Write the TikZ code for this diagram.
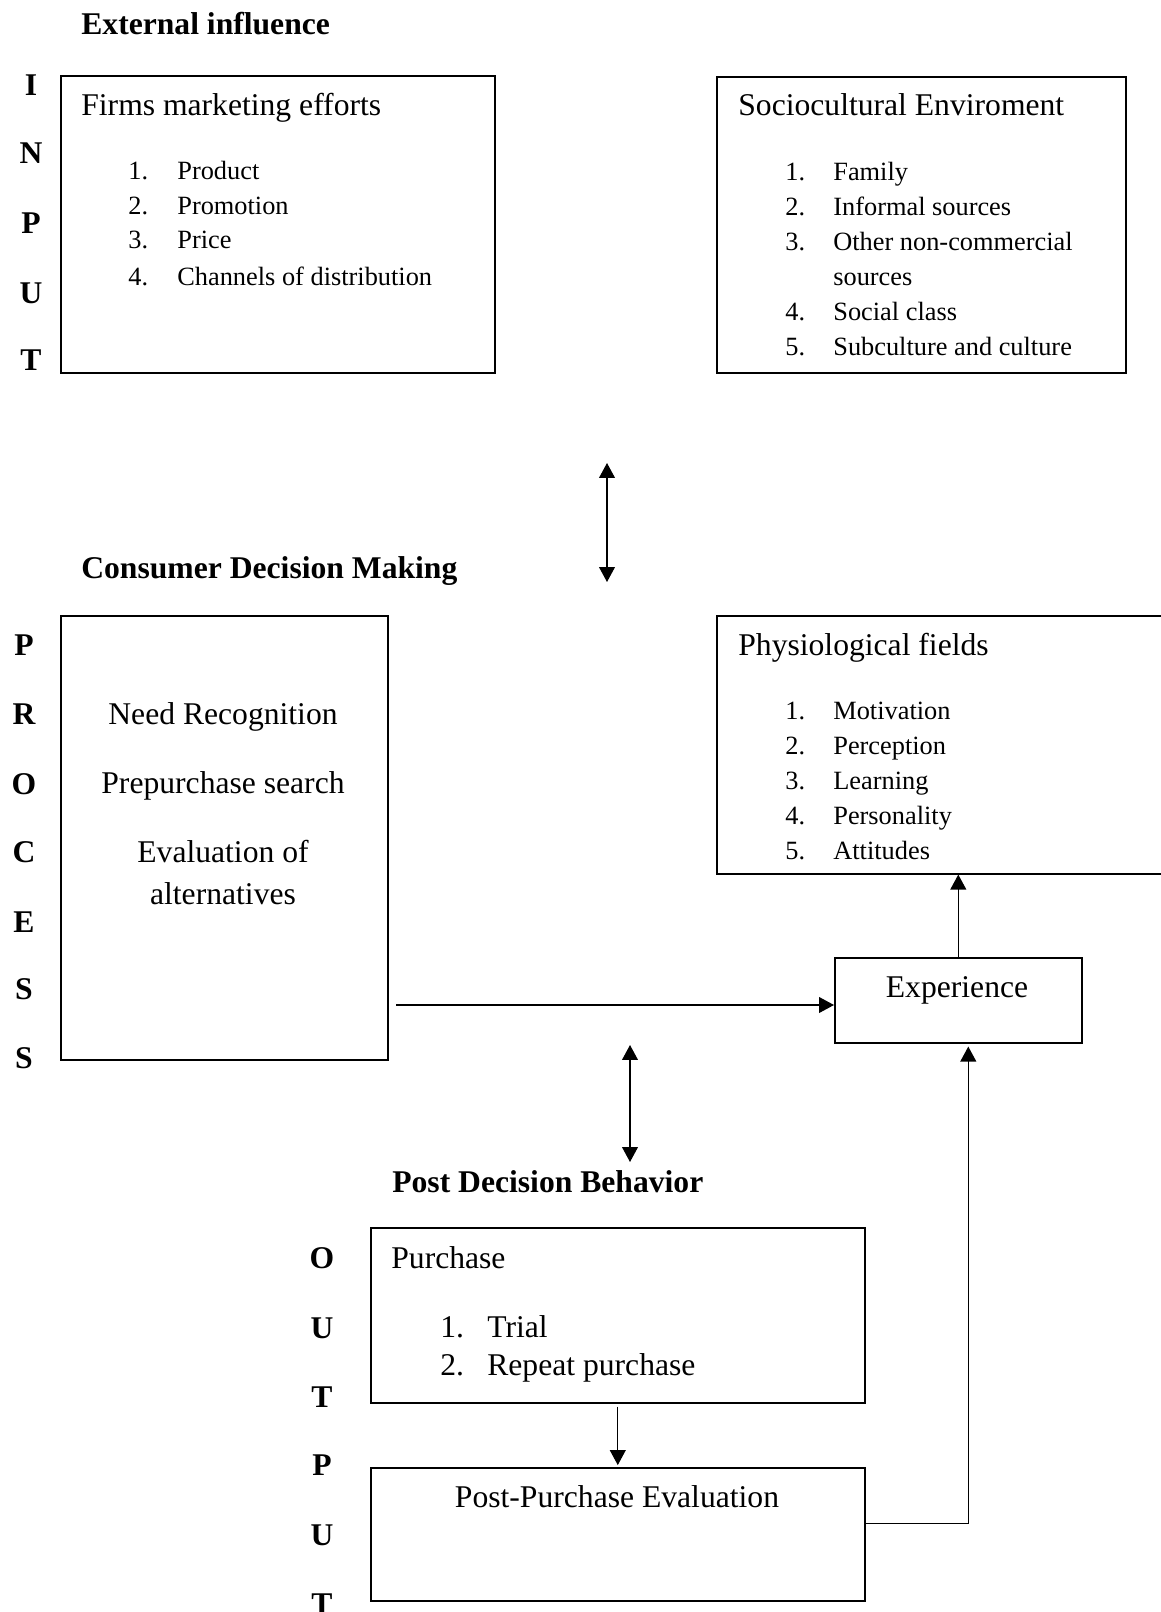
\documentclass[tikz,border=0pt]{standalone}
\usepackage{fontspec}
\setmainfont{Liberation Serif}
\usetikzlibrary{arrows.meta,calc}
\newlength\pix
\setlength\pix{0.02cm}
\newcommand\bigsize{\fontsize{18}{22}\selectfont}
\newcommand\lstsize{\fontsize{15}{18}\selectfont}
\newcommand\hdsize{\bfseries\fontsize{18}{22}\selectfont}
\begin{document}
\begin{tikzpicture}[x=0.02cm,y=-0.02cm,
  box/.style={draw,line width=0.9pt,anchor=north west,inner sep=0},
  txt/.style={anchor=base west,inner sep=0,font=\bigsize},
  lst/.style={anchor=base west,inner sep=0,font=\lstsize},
  mid/.style={anchor=base,inner sep=0,font=\bigsize},
  head/.style={anchor=base west,inner sep=0,font=\hdsize},
  letter/.style={anchor=base,inner sep=0,font=\hdsize},
  arr/.style={line width=0.7pt,-{Triangle[width=9pt,length=8.5pt]}},
  darr/.style={line width=0.7pt,{Triangle[width=9pt,length=8.5pt]}-{Triangle[width=9pt,length=8.5pt]}}]
\useasboundingbox (0,0) rectangle (1160,1612);

% input
\node[head] (exthead) at (81,35) {External influence};
\foreach \l/\y [count=\i] in {I/95,N/163,P/233,U/303,T/370}
  \node[letter] (in\i) at (31,\y) {\l};
\node[box,minimum width=434*\pix,minimum height=297*\pix] (firms) at (60,75) {};
\node[txt] (firmstitle) at (81,115) {Firms marketing efforts};
\foreach \t/\y [count=\i] in {Product/179,Promotion/214,Price/248,Channels of distribution/285}{
  \node[lst] (fnum\i) at (128,\y) {\i.};
  \node[lst] (fitem\i) at (177,\y) {\t};
}
\node[box,minimum width=409*\pix,minimum height=296*\pix] (socio) at (716,76) {};
\node[txt] (sociotitle) at (738,115) {Sociocultural Enviroment};
\foreach \t/\y [count=\i] in {Family/180,Informal sources/215,Other non-commercial/250,Social class/320,Subculture and culture/355}{
  \node[lst] (snum\i) at (785,\y) {\i.};
  \node[lst] (sitem\i) at (833,\y) {\t};
}
\node[lst] (sitem3b) at (833,285) {sources};

\coordinate (up1) at (607,463);
\coordinate (dn1) at (607,582);
\draw[darr] (up1) -- (dn1);

% process
\node[head] (prochead) at (81,578) {Consumer Decision Making};
\foreach \l/\y [count=\i] in {P/655,R/724,O/794,C/862,E/932,S/999,S/1068}
  \node[letter] (pr\i) at (24,\y) {\l};
\node[box,minimum width=327*\pix,minimum height=444*\pix] (proc) at (60,615) {};
\node[mid] (need) at (223,724) {Need Recognition};
\node[mid] (search) at (223,793) {Prepurchase search};
\node[mid] (evala) at (223,862) {Evaluation of};
\node[mid] (evalb) at (223,904) {alternatives};

\node[box,minimum width=464*\pix,minimum height=258*\pix] (phys) at (716,615) {};
\node[txt] (physttl) at (738,655) {Physiological fields};
\foreach \t/\y [count=\i] in {Motivation/719,Perception/754,Learning/789,Personality/824,Attitudes/859}{
  \node[lst] (pnum\i) at (785,\y) {\i.};
  \node[lst] (pitem\i) at (833,\y) {\t};
}
\node[box,minimum width=247*\pix,minimum height=85*\pix] (exp) at (834,957) {};
\node[mid] (exptxt) at (957,997) {Experience};

\coordinate (procout) at (396,1005);
\draw[arr] (procout) -- (procout -| exp.west);
\draw[arr] (exp.north) -- (exp.north |- phys.south);

\coordinate (up2) at (630,1045);
\coordinate (dn2) at (630,1162);
\draw[darr] (up2) -- (dn2);

% output
\node[head] (posthead) at (392,1192) {Post Decision Behavior};
\foreach \l/\y [count=\i] in {O/1268,U/1338,T/1407,P/1475,U/1545,T/1614}
  \node[letter] (out\i) at (322,\y) {\l};
\node[box,minimum width=494*\pix,minimum height=175*\pix] (purch) at (370,1227) {};
\node[txt] (purchttl) at (391,1268) {Purchase};
\node[txt] (num1) at (440,1337) {1.};
\node[txt] (trial) at (487,1337) {Trial};
\node[txt] (num2) at (440,1375) {2.};
\node[txt] (repeat) at (487,1375) {Repeat purchase};
\node[box,minimum width=494*\pix,minimum height=133*\pix] (ppe) at (370,1467) {};
\node[mid] (ppetxt) at (617,1507) {Post-Purchase Evaluation};

\draw[arr,shorten <=1.7pt,shorten >=1.1pt] (purch.south) -- (ppe.north);
\draw[arr,shorten >=1.7pt] ($(ppe.east)+(0,-11)$) -| ($(exp.south)+(10,0)$);
\end{tikzpicture}
\end{document}
